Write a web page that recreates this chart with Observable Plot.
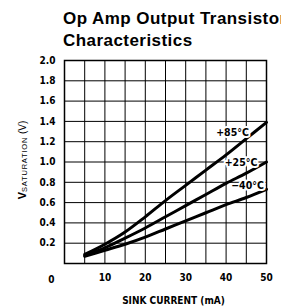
<!DOCTYPE html>
<html><head><meta charset="utf-8">
<script src="https://cdn.jsdelivr.net/npm/d3@7"></script>
<script src="https://cdn.jsdelivr.net/npm/@observablehq/plot@0.6"></script>
<style>
body{margin:0;background:#fff;width:281px;height:307px;overflow:hidden}
#title{font-family:"Liberation Sans",Arial,sans-serif;font-weight:bold;font-size:17px;letter-spacing:0.45px;line-height:22px;padding:8px 0 0 63px;height:44px;white-space:nowrap;color:#000;overflow:hidden}
</style></head><body>
<div id="title">Op Amp Output Transistor<br>Characteristics</div>
<div id="chart"></div>
<script>
const current = [5, 10, 15, 20, 25, 30, 35, 40, 45, 50];
const v85 = [0.09, 0.19, 0.31, 0.46, 0.62, 0.77, 0.92, 1.07, 1.23, 1.39];
const v25 = [0.08, 0.155, 0.25, 0.35, 0.46, 0.57, 0.68, 0.79, 0.89, 1.0];
const vm40 = [0.07, 0.13, 0.19, 0.26, 0.34, 0.42, 0.50, 0.58, 0.65, 0.73];
const seriesNames = ["+85°C", "+25°C", "−40°C"];
const labelCurrent = [41.6, 43.7, 45.3];
const labelVolt = [1.286, 0.995, 0.764];
const xTicks = [10, 20, 30, 40, 50];
const yTicks = [0.2, 0.4, 0.6, 0.8, 1.0, 1.2, 1.4, 1.6, 1.8, 2.0];
const xGrid = [5, 10, 15, 20, 25, 30, 35, 40, 45];
const yGrid = [0.2, 0.4, 0.6, 0.8, 1.0, 1.2, 1.4, 1.6, 1.8];
const xTitle = "SINK CURRENT (mA)";

const allSeries = [v85, v25, vm40];
const rows = allSeries.flatMap((vals, i) => vals.map((v, j) => ({series: seriesNames[i], x: current[j], y: v})));
const labels = seriesNames.map((s, i) => ({text: s, x: labelCurrent[i], y: labelVolt[i]}));

const font = "'Liberation Sans Narrow','DejaVu Sans Condensed',sans-serif";
const plot = Plot.plot({
  width: 281, height: 255,
  marginTop: 8, marginBottom: 44, marginLeft: 64, marginRight: 15,
  style: {fontFamily: font, fontWeight: "bold", fontSize: "10px", color: "#000", background: "#fff", overflow: "visible"},
  x: {domain: [0, 50]},
  y: {domain: [0, 2]},
  marks: [
    Plot.gridX(xGrid, {stroke: "#000", strokeOpacity: 1, strokeWidth: 1}),
    Plot.gridY(yGrid, {stroke: "#000", strokeOpacity: 1, strokeWidth: 1}),
    Plot.frame({stroke: "#000", strokeWidth: 1.5}),
    Plot.axisX({ticks: xTicks, tickSize: 0, tickPadding: 10, label: null, fontSize: 10}),
    Plot.axisY({ticks: yTicks, tickSize: 0, tickPadding: 9, tickFormat: d3.format(".1f"), label: null, fontSize: 10}),
    Plot.text([0], {x: 0, y: 0, text: d => String(d), textAnchor: "end", dx: -10, dy: 16, fontSize: 10}),
    Plot.line(rows, {x: "x", y: "y", z: "series", stroke: "#000", strokeWidth: 3, curve: "catmull-rom"}),
    Plot.text(labels, {x: "x", y: "y", text: "text", fill: "#000", stroke: "#fff", strokeWidth: 4, fontSize: 10.5, textAnchor: "middle"}),
    Plot.text([xTitle], {frameAnchor: "bottom", text: d => d, dx: 8, dy: 37, fontSize: 10, lineAnchor: "middle", letterSpacing: 0.5})
  ]
});
document.getElementById("chart").appendChild(plot);
const t = d3.select(plot).append("text")
  .attr("transform", "translate(26,108) rotate(-90)")
  .attr("text-anchor", "middle")
  .attr("font-family", "'Liberation Sans','DejaVu Sans',sans-serif")
  .attr("font-weight", "bold")
  .attr("fill", "#000");
t.append("tspan").attr("font-size", 11).text("V");
t.append("tspan").attr("font-size", 7.5).attr("font-weight", "normal").attr("letter-spacing", 0.8).attr("dy", 1).text("SATURATION");
t.append("tspan").attr("font-size", 10).attr("font-weight", "normal").attr("dy", -1).text(" (V)");
</script>
</body></html>
